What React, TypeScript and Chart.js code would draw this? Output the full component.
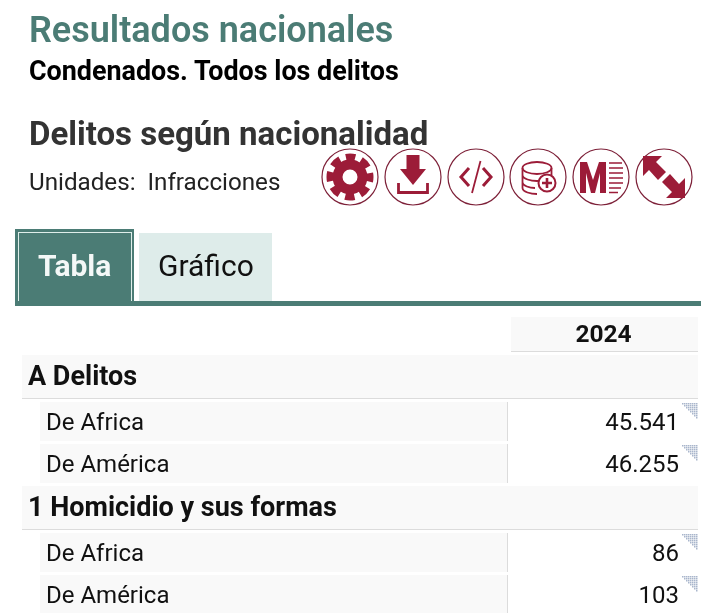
import React, { useEffect, useRef } from 'react';
import { Chart, registerables } from 'chart.js';

Chart.register(...registerables);

const rowNames = ['A Delitos', 'De Africa', 'De América', '1 Homicidio y sus formas', 'De Africa', 'De América'];
const rowIsSection = [true, false, false, true, false, false];
const rowValues = [null, 45541, 46255, null, 86, 103];
const years = ['2024'];

const TEAL = '#4b7c75';
const CRIMSON = '#9c1c38';
const CELL = '#f9f9f9';
const LINE = '#dcdcdc';
const FONT = 'Roboto';

const SECTION_PITCH = 47;
const LEAF_PITCH = 42;

// row tops in scale units, sections are a bit taller than leaf rows
const rowTops: number[] = [];
rowIsSection.reduce((top, section, i) => {
  rowTops[i] = top;
  return top + (section ? SECTION_PITCH : LEAF_PITCH);
}, 0);
const rowCenters = rowTops.map((top, i) => top + (rowIsSection[i] ? SECTION_PITCH - 3 : LEAF_PITCH - 3) / 2);
const formatValue = (v: number) => String(v).replace(/\B(?=(\d{3})+$)/g, '.');

const tablePlugin = {
  id: 'table',
  beforeDraw(chart: any) {
    const { ctx, chartArea, scales } = chart;
    const y = scales.y;
    const { left, right, top } = chartArea;
    ctx.save();
    ctx.fillStyle = CELL;
    ctx.fillRect(left + 2, top - 38, right - left - 2, 34);
    ctx.fillStyle = LINE;
    ctx.fillRect(left + 2, top - 4, right - left - 2, 1);
    rowNames.forEach((_, i) => {
      const rowTop = y.getPixelForValue(rowTops[i]);
      if (rowIsSection[i]) {
        const rowBottom = y.getPixelForValue(rowTops[i] + SECTION_PITCH - 3);
        ctx.fillStyle = CELL;
        ctx.fillRect(22, rowTop, right - 22, rowBottom - rowTop);
        ctx.fillStyle = LINE;
        ctx.fillRect(22, rowBottom - 1, right - 22, 1);
      } else {
        const rowBottom = y.getPixelForValue(rowTops[i] + LEAF_PITCH - 3);
        ctx.fillStyle = CELL;
        ctx.fillRect(40, rowTop, left - 42, rowBottom - rowTop);
        ctx.fillStyle = LINE;
        ctx.fillRect(left - 2, rowTop, 1, rowBottom - rowTop);
      }
    });
    ctx.restore();
  },
  afterDraw(chart: any) {
    const { ctx, chartArea, scales } = chart;
    const y = scales.y;
    const { right } = chartArea;
    ctx.save();
    ctx.textBaseline = 'middle';
    rowNames.forEach((name, i) => {
      const cy = y.getPixelForValue(rowCenters[i]) + (rowIsSection[i] ? 1.5 : 2);
      ctx.textAlign = 'left';
      ctx.fillStyle = '#111';
      ctx.font = rowIsSection[i] ? `700 27px ${FONT}` : `400 24px ${FONT}`;
      ctx.fillText(name, rowIsSection[i] ? 28 : 46, cy);
      const value = rowValues[i];
      if (value === null) return;
      ctx.textAlign = 'right';
      ctx.font = `400 24px ${FONT}`;
      ctx.fillText(formatValue(value), right - 19, cy);

      // note marker in the cell corner, dithered triangle
      const markTop = y.getPixelForValue(rowTops[i]) + 1;
      ctx.fillStyle = '#a9b6cc';
      for (let dy = 0; dy < 16; dy += 2) {
        for (let dx = dy; dx < 16; dx += 2) {
          ctx.fillRect(right - 16 + dx, markTop + dy, 1.5, 1.5);
        }
      }
    });
    ctx.restore();
  },
};

const Circle = ({ cx, children }: { cx: number; children: React.ReactNode }) => (
  <g transform={`translate(${cx} 177)`}>
    <circle r="28" fill="#fff" stroke="#7d2038" strokeWidth="1.2" />
    {children}
  </g>
);

const Icons = () => (
  <svg width="719" height="613" style={{ position: 'absolute', left: 0, top: 0 }}>
    <g fill={CRIMSON} stroke="none">
      <Circle cx={350}>
        <circle r="12.5" fill="none" stroke={CRIMSON} strokeWidth="10" />
        <circle r="20" fill="none" stroke={CRIMSON} strokeWidth="7" strokeDasharray="9.5 6.2" strokeDashoffset="4.75" />
      </Circle>
      <Circle cx={413}>
        <path d="M-6.5 -22 H6.5 V-8 H13 L0 8 L-13 -8 H-6.5 Z" />
        <path d="M-14.5 6 V15.5 H14.5 V6" fill="none" stroke={CRIMSON} strokeWidth="2.8" />
      </Circle>
      <Circle cx={476}>
        <g fill="none" stroke={CRIMSON}>
          <path d="M-7 -9 L-15 0 L-7 9 M7 -9 L15 0 L7 9" strokeWidth="3" />
          <path d="M4.5 -16 L-4 16" strokeWidth="1.8" />
        </g>
      </Circle>
      <Circle cx={538}>
        <g fill="none" stroke={CRIMSON} strokeWidth="1.8">
          <ellipse cx="-1" cy="-9" rx="14.5" ry="6" />
          <path d="M-15.5 -9 V11 C-15.5 15 -7 17 -1 17 M-15.5 -2 C-15.5 2 -7 4 -1 4 C2 4 5 3.5 7 3 M-15.5 5 C-15.5 9 -8 11 -3 11" />
          <path d="M13.5 -9 V0" />
          <circle cx="9" cy="6" r="8.5" fill="#fff" strokeWidth="2" />
          <path d="M9 1 V11 M4 6 H14" strokeWidth="2.6" />
        </g>
      </Circle>
      <Circle cx={601}>
        <path d="M-21 -15 H-14 L-8 3 L-2 -15 H5 V16 H-1 V-4 L-6 16 H-10 L-15 -4 V16 H-21 Z" />
        <path d="M8 -14 H21 M8 -9 H22 M8 -4 H22 M8 1 H22 M8 6 H22 M8 11 H20 M8 15.5 H17" stroke={CRIMSON} strokeWidth="1.6" />
      </Circle>
      <Circle cx={664}>
        <path d="M-21 -21 H-2 L-8 -15 L2 -5 L-6 3 L-15 -7 L-21 -1 Z" />
        <path d="M21 21 H2 L8 15 L-2 5 L6 -3 L15 7 L21 1 Z" />
      </Circle>
    </g>
  </svg>
);

const text = (left: number, top: number, size: number, weight: number, color: string): React.CSSProperties => ({
  position: 'absolute',
  left,
  top,
  fontFamily: FONT,
  fontSize: size,
  fontWeight: weight,
  color,
  lineHeight: `${size * 1.2}px`,
  whiteSpace: 'pre',
});

const App = (): JSX.Element => {
  const canvasRef = useRef<HTMLCanvasElement>(null);

  useEffect(() => {
    const chart = new Chart(canvasRef.current, {
      type: 'bar',
      plugins: [tablePlugin],
      data: {
        labels: rowNames,
        datasets: [
          {
            data: rowValues.map((v, i) => ({ x: v, y: rowCenters[i] })),
            backgroundColor: 'transparent',
            borderWidth: 0,
          },
        ],
      },
      options: {
        indexAxis: 'y',
        animation: false,
        responsive: false,
        devicePixelRatio: 1,
        layout: { padding: { left: 509, right: 21, top: 317, bottom: 0 } },
        plugins: { legend: { display: false }, tooltip: { enabled: false } },
        scales: {
          x: {
            position: 'top',
            beginAtZero: true,
            grid: { display: false, drawTicks: false },
            border: { display: false },
            ticks: { display: false },
            title: {
              display: true,
              text: years[0],
              color: '#111',
              font: { family: FONT, size: 24.5, weight: 'bold' },
              padding: { top: 4, bottom: 4.6 },
            },
          },
          y: {
            type: 'linear',
            display: false,
            reverse: true,
            offset: false,
            min: 0,
            max: 258,
          },
        },
      },
    });
    return () => {
      chart.destroy();
    };
  }, []);

  return (
    <div style={{ position: 'absolute', left: 0, top: 0, width: 719, height: 613, overflow: 'hidden', background: '#fff' }}>
      <canvas ref={canvasRef} width={719} height={613} style={{ position: 'absolute', left: 0, top: 0 }} />
      <div style={text(29, 9, 36, 600, TEAL)}>Resultados nacionales</div>
      <div style={text(29, 55, 26.9, 700, '#000')}>Condenados. Todos los delitos</div>
      <div style={text(29, 114, 33, 700, '#333')}>Delitos según nacionalidad</div>
      <div style={text(29, 168, 24.2, 400, '#222')}>{'Unidades:  Infracciones'}</div>
      <Icons />
      <div style={{ position: 'absolute', left: 15, top: 229, width: 119, height: 76, background: TEAL }} />
      <div style={{ position: 'absolute', left: 18, top: 232, width: 112, height: 68, border: '1px solid #dfeeea' }} />
      <div style={{ position: 'absolute', left: 139, top: 233, width: 133, height: 68, background: '#deecea' }} />
      <div style={{ position: 'absolute', left: 15, top: 301, width: 686, height: 5, background: TEAL }} />
      <div style={text(38, 248, 30, 700, '#f4f8f7')}>Tabla</div>
      <div style={text(158, 248, 30, 400, '#111')}>Gráfico</div>
    </div>
  );
};

export default App;
